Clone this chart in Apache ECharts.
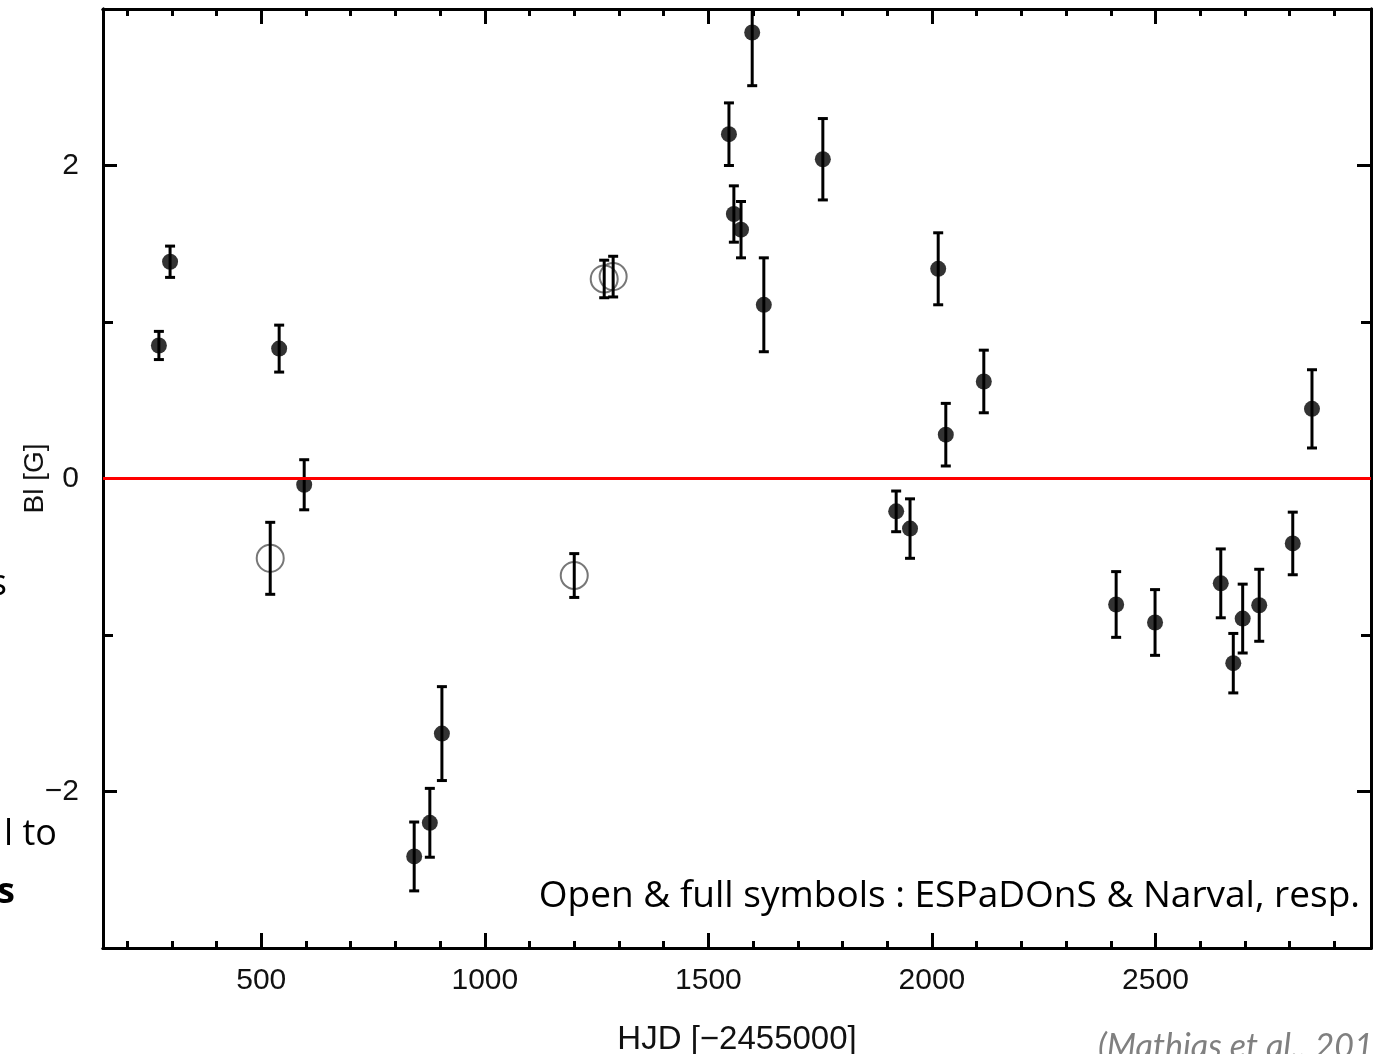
<!DOCTYPE html>
<html>
<head>
<meta charset="utf-8">
<script src="https://cdn.jsdelivr.net/npm/echarts@6/dist/echarts.min.js"></script>
<style>
html,body{margin:0;padding:0;background:#fff;}
#chart{width:1377px;height:1054px;}
</style>
</head>
<body>
<div id="chart"></div>
<script>
// Narval (full symbols)
const narvalHJD = [271, 296, 540, 596, 842, 877, 904, 1546, 1557, 1573, 1598, 1624, 1756, 1920, 1951, 2014, 2031, 2116, 2412, 2499, 2646, 2674, 2695, 2732, 2807, 2850];
const narvalBl  = [0.85, 1.385, 0.83, -0.04, -2.415, -2.20, -1.63, 2.20, 1.69, 1.59, 2.85, 1.11, 2.04, -0.21, -0.32, 1.34, 0.28, 0.62, -0.805, -0.92, -0.67, -1.18, -0.895, -0.81, -0.415, 0.445];
const narvalErr = [0.09, 0.10, 0.15, 0.16, 0.22, 0.22, 0.30, 0.20, 0.18, 0.18, 0.34, 0.30, 0.26, 0.13, 0.19, 0.23, 0.20, 0.20, 0.21, 0.21, 0.22, 0.19, 0.22, 0.23, 0.20, 0.25];
// ESPaDOnS (open symbols)
const espHJD = [520, 1200, 1267, 1287];
const espBl  = [-0.51, -0.62, 1.275, 1.29];
const espErr = [0.23, 0.14, 0.12, 0.13];

const xMin = 146, xMax = 2982;
const yMin = -3, yMax = 3;
const xMajorTicks = [500, 1000, 1500, 2000, 2500];
const xMinorTicks = [200, 300, 400, 600, 700, 800, 900, 1100, 1200, 1300, 1400, 1600, 1700, 1800, 1900, 2100, 2200, 2300, 2400, 2600, 2700, 2800, 2900];
const yMajorTicks = [-2, 0, 2];
const yMinorTicks = [-1, 1];

const xTitle = 'HJD [\u22122455000]';
const yTitle = 'Bl [G]';
const noteText = 'Open & full symbols : ESPaDOnS & Narval, resp.';
const citeText = '(Mathias et al., 2017)';

const tickFont = '"Liberation Sans Narrow", "Liberation Sans", Arial, sans-serif';
const fmt = v => (v < 0 ? '\u2212' + Math.abs(v) : String(v));

function makeX(pos, ticks, len, labels) {
  return {
    type: 'value', min: xMin, max: xMax, position: pos,
    axisLine: { show: true, onZero: false, lineStyle: { color: '#000', width: 3 } },
    axisTick: { show: true, inside: true, length: len, customValues: ticks, lineStyle: { color: '#000', width: 3 } },
    axisLabel: labels ? { show: true, customValues: ticks, formatter: fmt, fontFamily: tickFont, fontSize: 30, color: '#111', margin: 18 } : { show: false },
    splitLine: { show: false }, minorTick: { show: false }
  };
}
function makeY(pos, ticks, len, labels) {
  return {
    type: 'value', min: yMin, max: yMax, position: pos,
    axisLine: { show: true, onZero: false, lineStyle: { color: '#000', width: 3 } },
    axisTick: { show: true, inside: true, length: len, customValues: ticks, lineStyle: { color: '#000', width: 3 } },
    axisLabel: labels ? { show: true, customValues: ticks, formatter: fmt, fontFamily: tickFont, fontSize: 30, color: '#111', margin: 24 } : { show: false },
    splitLine: { show: false }, minorTick: { show: false }
  };
}

const xAxes = [
  makeX('bottom', xMajorTicks, 15, true),
  makeX('bottom', xMinorTicks, 7, false),
  makeX('top', xMajorTicks, 15, false),
  makeX('top', xMinorTicks, 7, false)
];
Object.assign(xAxes[0], { name: xTitle, nameLocation: 'middle', nameGap: 75, nameMoveOverlap: false, nameTextStyle: { fontFamily: tickFont, fontSize: 33, color: '#111' } });
const yAxes = [
  makeY('left', yMajorTicks, 14, true),
  makeY('left', yMinorTicks, 10, false),
  makeY('right', yMajorTicks, 14, false),
  makeY('right', yMinorTicks, 10, false)
];
Object.assign(yAxes[0], { name: yTitle, nameLocation: 'middle', nameGap: 54, nameMoveOverlap: false, nameRotate: 90, nameTextStyle: { fontFamily: '"Liberation Sans", Arial, sans-serif', fontSize: 28, color: '#111' } });

function errData(xs, ys, es) { return xs.map((x, i) => [x, ys[i], es[i]]); }
function errRender(params, api) {
  const x = api.value(0), y = api.value(1), e = api.value(2);
  const top = api.coord([x, y + e]);
  const bot = api.coord([x, y - e]);
  const cw = 5;
  const st = { stroke: '#000', lineWidth: 3 };
  return {
    type: 'group',
    children: [
      { type: 'line', shape: { x1: top[0], y1: top[1], x2: bot[0], y2: bot[1] }, style: st },
      { type: 'line', shape: { x1: top[0] - cw, y1: top[1], x2: top[0] + cw, y2: top[1] }, style: st },
      { type: 'line', shape: { x1: bot[0] - cw, y1: bot[1], x2: bot[0] + cw, y2: bot[1] }, style: st }
    ]
  };
}

const chart = echarts.init(document.getElementById('chart'), null, { renderer: 'canvas' });
chart.setOption({
  animation: false,
  backgroundColor: '#fff',
  grid: { left: 103, right: 6, top: 9, bottom: 106, containLabel: false, outerBoundsMode: 'none' },
  xAxis: xAxes,
  yAxis: yAxes,
  series: [
    {
      type: 'scatter', name: 'ESPaDOnS', data: espHJD.map((x, i) => [x, espBl[i]]),
      symbol: 'circle', symbolSize: 27,
      itemStyle: { color: 'rgba(0,0,0,0)', borderColor: '#555', borderWidth: 2 }, z: 2
    },
    {
      type: 'custom', name: 'espErr', data: errData(espHJD, espBl, espErr), renderItem: errRender, z: 3, clip: true
    },
    {
      type: 'custom', name: 'narvalErr', data: errData(narvalHJD, narvalBl, narvalErr), renderItem: errRender, z: 3, clip: true
    },
    {
      type: 'scatter', name: 'Narval', data: narvalHJD.map((x, i) => [x, narvalBl[i]]),
      symbol: 'circle', symbolSize: 16, itemStyle: { color: '#000' }, z: 4
    },
    {
      type: 'line', name: 'zero', data: [], z: 10,
      markLine: {
        silent: true, symbol: ['none', 'none'], label: { show: false },
        lineStyle: { color: '#ff0000', width: 3, type: 'solid' },
        data: [{ yAxis: 0 }]
      }
    }
  ],
  graphic: [
    { type: 'text', x: 1360, y: 896, style: { text: noteText, textAlign: 'right', textVerticalAlign: 'middle', font: '37px "Open Sans", sans-serif', fill: '#000' }, z: 20 },
    { type: 'text', x: 1098, y: 1030, style: { text: citeText, font: 'italic 34px Lato, "Open Sans", sans-serif', fill: '#808080' }, z: 20 },
    { type: 'text', x: 7, y: 585, style: { text: 's', textAlign: 'right', textVerticalAlign: 'middle', font: '36px "Open Sans", sans-serif', fill: '#000' } },
    { type: 'text', x: 57, y: 835, style: { text: 'l to', textAlign: 'right', textVerticalAlign: 'middle', font: '36px "Open Sans", sans-serif', fill: '#000' } },
    { type: 'text', x: 15, y: 893, style: { text: 's', textAlign: 'right', textVerticalAlign: 'middle', font: 'bold 36px "Open Sans", sans-serif', fill: '#000' } }
  ]
});
</script>
</body>
</html>
